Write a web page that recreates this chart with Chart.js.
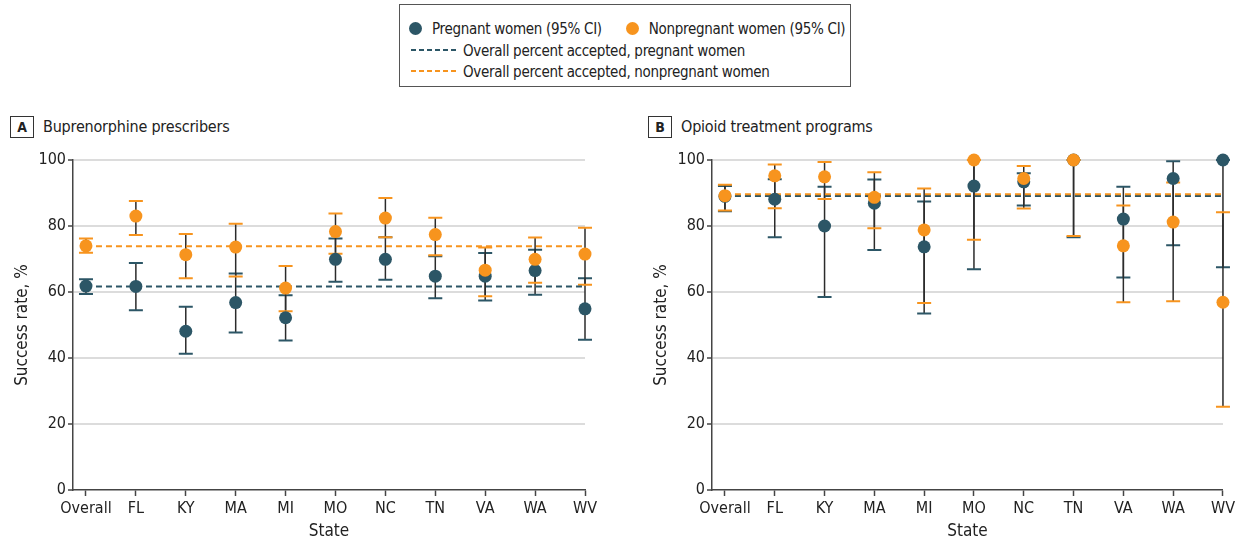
<!DOCTYPE html>
<html>
<head>
<meta charset="utf-8">
<script src="https://cdn.jsdelivr.net/npm/chart.js@4.4.1/dist/chart.umd.min.js"></script>
<style>
  body { margin: 0; width: 1238px; height: 542px; overflow: hidden; background: #fff; position: relative;
         font-family: "Liberation Sans Narrow", "DejaVu Sans Condensed", "Liberation Sans", sans-serif; color: #222; }
  .legend { position: absolute; left: 399px; top: 4px; width: 452px; height: 83px; border: 1px solid #555; box-sizing: border-box; font-size: 15px; letter-spacing: -0.3px; }
  .legend .row { position: absolute; left: 0; height: 20px; line-height: 20px; white-space: nowrap; }
  .dot { display: inline-block; width: 13px; height: 13px; border-radius: 50%; vertical-align: -1px; }
  .dash { display: inline-block; width: 45px; height: 2px; vertical-align: 5px; margin-right: 7px; }
  .ptitle { position: absolute; top: 116px; font-size: 16px; letter-spacing: -0.2px; white-space: nowrap; }
  .ptitle .box { display: inline-block; width: 22px; height: 20px; border: 1.5px solid #333; text-align: center; line-height: 20px; font-weight: bold; font-size: 14px; margin-right: 9px; letter-spacing: 0; }
  canvas { position: absolute; }
</style>
</head>
<body>
<div class="legend">
  <div class="row" style="top:14px;left:9px"><span class="dot" style="background:#2c5666"></span><span style="margin-left:10px">Pregnant women (95% CI)</span>
    <span class="dot" style="background:#f7941e;margin-left:20px"></span><span style="margin-left:10px">Nonpregnant women (95% CI)</span></div>
  <div class="row" style="top:36px;left:11px"><span class="dash" style="background:repeating-linear-gradient(90deg,#2c5666 0 5px,transparent 5px 8px)"></span>Overall percent accepted, pregnant women</div>
  <div class="row" style="top:57px;left:11px"><span class="dash" style="background:repeating-linear-gradient(90deg,#f7941e 0 5px,transparent 5px 8px)"></span>Overall percent accepted, nonpregnant women</div>
</div>
<div class="ptitle" style="left:10px"><span class="box">A</span>Buprenorphine prescribers</div>
<div class="ptitle" style="left:648px"><span class="box">B</span>Opioid treatment programs</div>
<canvas id="chartA" style="left:0;top:140px"></canvas>
<canvas id="chartB" style="left:639px;top:140px"></canvas>
<script>
const CATS = ['Overall', 'FL', 'KY', 'MA', 'MI', 'MO', 'NC', 'TN', 'VA', 'WA', 'WV'];
const Y_TICKS = [0, 20, 40, 60, 80, 100];

// Panel A: buprenorphine prescribers
const A_PREG    = [61.8, 61.7, 48.1, 56.8, 52.2, 69.9, 69.9, 64.8, 64.8, 66.5, 54.9];
const A_PREG_LO = [59.4, 54.5, 41.3, 47.7, 45.3, 63.1, 63.7, 58.1, 57.4, 59.2, 45.5];
const A_PREG_HI = [63.9, 68.8, 55.5, 65.6, 59.0, 76.2, 76.6, 70.8, 71.8, 72.8, 64.2];
const A_NONP    = [74.0, 83.0, 71.3, 73.6, 61.2, 78.3, 82.4, 77.4, 66.6, 69.9, 71.5];
const A_NONP_LO = [71.9, 77.3, 64.2, 64.7, 54.2, 71.6, 76.6, 71.1, 58.7, 62.8, 62.2];
const A_NONP_HI = [76.2, 87.6, 77.6, 80.7, 67.9, 83.8, 88.5, 82.5, 73.5, 76.5, 79.5];
const A_OVERALL_PREG = 61.7;
const A_OVERALL_NONP = 73.9;

// Panel B: opioid treatment programs
const B_PREG    = [89.0, 88.1, 80.0, 86.9, 73.7, 92.1, 93.4, 100, 82.1, 94.4, 100];
const B_PREG_LO = [84.5, 76.6, 58.5, 72.7, 53.5, 66.9, 86.2, 76.6, 64.4, 74.2, 67.5];
const B_PREG_HI = [92.1, 94.2, 91.9, 94.1, 87.4, 100, 96.0, 100, 91.9, 99.6, 100];
const B_NONP    = [89.2, 95.2, 94.9, 88.7, 78.8, 100, 94.4, 100, 74.0, 81.2, 56.9];
const B_NONP_LO = [84.7, 85.4, 88.2, 79.3, 56.7, 75.8, 85.3, 77.0, 56.9, 57.2, 25.2];
const B_NONP_HI = [92.5, 98.6, 99.4, 96.3, 91.4, 100, 98.2, 100, 86.2, 93.2, 84.2];
const B_OVERALL_PREG = 89.1;
const B_OVERALL_NONP = 89.6;

const BLUE = '#2c5666';
const ORANGE = '#f7941e';
const FONT = '"Liberation Sans Narrow", "DejaVu Sans Condensed", "Liberation Sans", sans-serif';

Chart.defaults.font.family = FONT;
Chart.defaults.color = '#222';

// draws whiskers under the points, from each dataset's lo/hi arrays
const errorBars = {
    id: 'errorBars',
    beforeDatasetsDraw(chart) {
        const ctx = chart.ctx;
        const xs = chart.scales.x, ys = chart.scales.y;
        // blue first, then orange on top
        [...chart.data.datasets].reverse().forEach(ds => {
            if (!ds.lo) return;
            ds.lo.forEach((lo, i) => {
                const x = xs.getPixelForValue(i);
                const yLo = ys.getPixelForValue(lo);
                const yHi = ys.getPixelForValue(ds.hi[i]);
                ctx.save();
                ctx.strokeStyle = '#2b2b2b';
                ctx.lineWidth = 1.5;
                ctx.beginPath();
                ctx.moveTo(x, yLo);
                ctx.lineTo(x, yHi);
                ctx.stroke();
                ctx.strokeStyle = ds.backgroundColor;
                ctx.lineWidth = 2;
                ctx.beginPath();
                ctx.moveTo(x - 7, yLo); ctx.lineTo(x + 7, yLo);
                ctx.moveTo(x - 7, yHi); ctx.lineTo(x + 7, yHi);
                ctx.stroke();
                ctx.restore();
            });
        });
    }
};

function points(vals) {
    return vals.map((v, i) => ({ x: i, y: v }));
}

function makePanel(id, padRight, preg, pregLo, pregHi, nonp, nonpLo, nonpHi, overallPreg, overallNonp) {
    const canvas = document.getElementById(id);
    return new Chart(canvas, {
        type: 'scatter',
        data: {
            datasets: [
                { label: 'Nonpregnant', data: points(nonp), lo: nonpLo, hi: nonpHi, backgroundColor: ORANGE,
                  pointRadius: 6.5, borderWidth: 0, order: 0, clip: false },
                { label: 'Pregnant', data: points(preg), lo: pregLo, hi: pregHi, backgroundColor: BLUE,
                  pointRadius: 6.5, borderWidth: 0, order: 1, clip: false },
                { type: 'line', label: 'Overall nonpregnant', data: [{ x: 0, y: overallNonp }, { x: CATS.length - 1, y: overallNonp }],
                  borderColor: ORANGE, borderWidth: 2, borderDash: [6, 4], pointRadius: 0, order: 2 },
                { type: 'line', label: 'Overall pregnant', data: [{ x: 0, y: overallPreg }, { x: CATS.length - 1, y: overallPreg }],
                  borderColor: BLUE, borderWidth: 2, borderDash: [6, 4], pointRadius: 0, order: 3 }
            ]
        },
        options: {
            responsive: false,
            animation: false,
            devicePixelRatio: 1,
            layout: { padding: { top: 20, right: padRight, left: 0, bottom: 0 } },
            plugins: { legend: { display: false }, tooltip: { enabled: false } },
            scales: {
                x: {
                    type: 'linear',
                    min: -0.26,
                    max: CATS.length - 1,
                    afterBuildTicks: s => { s.ticks = CATS.map((c, i) => ({ value: i })); },
                    afterFit: s => { s.height = 52; },
                    ticks: { callback: v => CATS[v], font: { size: 16 }, color: '#222', padding: 3, maxRotation: 0, autoSkip: false },
                    grid: { drawOnChartArea: false, tickLength: 6, tickColor: '#444', tickWidth: 1.5 },
                    border: { color: '#444', width: 1.5 },
                    title: { display: true, text: 'State', font: { size: 17 }, color: '#222', padding: { top: 0, bottom: 0 } }
                },
                y: {
                    min: 0,
                    max: 100,
                    afterBuildTicks: s => { s.ticks = Y_TICKS.map(v => ({ value: v })); },
                    afterFit: s => { s.width = 73; },
                    ticks: { font: { size: 16 }, color: '#222', padding: 2 },
                    grid: { color: c => c.tick && c.tick.value === 0 ? 'rgba(0,0,0,0)' : '#dcdcdc', lineWidth: 2, tickLength: 5, tickColor: '#444', tickWidth: 1.5 },
                    border: { color: '#444', width: 1.5 },
                    title: { display: true, text: 'Success rate, %', font: { size: 17 }, color: '#222', padding: { top: 12, bottom: 0 } }
                }
            }
        },
        plugins: [errorBars]
    });
}

document.getElementById('chartA').width = 610;
document.getElementById('chartA').height = 402;
document.getElementById('chartB').width = 599;
document.getElementById('chartB').height = 402;

makePanel('chartA', 25, A_PREG, A_PREG_LO, A_PREG_HI, A_NONP, A_NONP_LO, A_NONP_HI, A_OVERALL_PREG, A_OVERALL_NONP);
makePanel('chartB', 15, B_PREG, B_PREG_LO, B_PREG_HI, B_NONP, B_NONP_LO, B_NONP_HI, B_OVERALL_PREG, B_OVERALL_NONP);
</script>
</body>
</html>
